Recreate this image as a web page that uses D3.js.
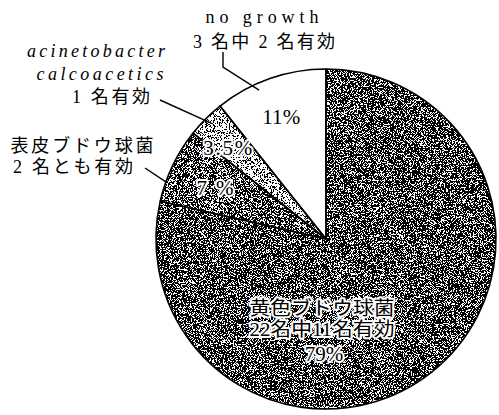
<!DOCTYPE html>
<html lang="ja">
<head>
<meta charset="UTF-8">
<title>菌種別 有効率</title>
<script src="https://d3js.org/d3.v7.min.js"></script>
<style>
  html, body { margin: 0; padding: 0; background: #fff; }
  svg { display: block; }
  .lbl { font-family: "Liberation Serif", "Noto Sans CJK JP", serif; fill: #000; }
  .halo { paint-order: stroke; stroke: #fff; stroke-width: 4px; stroke-linejoin: round; }
</style>
</head>
<body>
<div id="chart"></div>
<script>
// data
const categories = ["黄色ブドウ球菌", "表皮ブドウ球菌", "acinetobacter calcoacetics", "no growth"];
const counts = [22, 2, 1, 3];
const pctLabels = ["79%", "7 %", "3.5%", "11%"];
const noteLines = [
  ["黄色ブドウ球菌", "22名中11名有効"],
  ["表皮ブドウ球菌", "2 名とも有効"],
  ["acinetobacter", "calcoacetics", "1 名有効"],
  ["no growth", "3 名中 2 名有効"]
];

const width = 499, height = 415;
const cx = 326, cy = 239, R = 170;

// look of each slice: noise cut-off (share of black grain), null = plain white
const fills = [0.535, 0.522, 0.465, null];

// where the percentage sits: [angle in degrees, fraction of radius, text width]
const pctPos = [null, [295, 0.72, 37], [313, 0.79, 49], [340, 0.77, 38]];

// outside notes: lines [x, baseline, width, italic], leader start points, leader end [deg, frac]
const notes = {
  1: { lines: [[82, 152, 143], [73, 173, 120]], lead: [[145, 168]], end: [289.5, 0.99], size: 18 },
  2: { lines: [[96, 57, 138, true], [100, 80, 127, true], [111, 103, 78]], lead: [[160, 100]], end: [315.5, 0.95], size: 18 },
  3: { lines: [[262, 23, 113], [264, 48, 142]], lead: [[223, 52], [223, 67]], end: [335.8, 0.96], size: 18 }
};

const svg = d3.select("#chart").append("svg")
  .attr("width", width).attr("height", height)
  .attr("viewBox", [0, 0, width, height]);

const defs = svg.append("defs");
fills.forEach((f, i) => {
  if (f == null) return;
  const table = d3.range(200).map(k => k / 200 < f ? 0 : 1).join(" ");
  const flt = defs.append("filter").attr("id", "grain" + i)
    .attr("x", 0).attr("y", 0).attr("width", "100%").attr("height", "100%");
  flt.append("feTurbulence").attr("type", "fractalNoise")
    .attr("baseFrequency", 1.3).attr("numOctaves", 1).attr("seed", 4 + i).attr("result", "n");
  flt.append("feColorMatrix").attr("in", "n").attr("type", "saturate").attr("values", 0).attr("result", "g");
  const ct = flt.append("feComponentTransfer").attr("in", "g").attr("result", "t");
  ["R", "G", "B"].forEach(c => ct.append("feFunc" + c).attr("type", "discrete").attr("tableValues", table));
  ct.append("feFuncA").attr("type", "discrete").attr("tableValues", "1 1");
  flt.append("feComposite").attr("in", "t").attr("in2", "SourceGraphic").attr("operator", "in");
});

const pie = d3.pie().sort(null).value(d => d)(counts);
const arc = d3.arc().innerRadius(0).outerRadius(R);

const g = svg.append("g").attr("transform", `translate(${cx},${cy})`);

g.selectAll("path.fill").data(pie).join("path")
  .attr("class", "fill")
  .attr("d", arc)
  .attr("fill", (d, i) => fills[i] == null ? "#fff" : "#000")
  .attr("filter", (d, i) => fills[i] == null ? null : `url(#grain${i})`);

g.selectAll("path.edge").data(pie).join("path")
  .attr("class", "edge")
  .attr("d", arc)
  .attr("fill", "none")
  .attr("stroke", "#000")
  .attr("stroke-width", 1.6)
  .attr("stroke-linejoin", "round");

const polar = (deg, frac) => {
  const a = deg * Math.PI / 180;
  return [cx + R * frac * Math.sin(a), cy - R * frac * Math.cos(a)];
};

// percentages
pie.forEach((d, i) => {
  if (!pctPos[i]) return;
  const [x, y] = polar(pctPos[i][0], pctPos[i][1]);
  svg.append("text")
    .attr("class", "lbl" + (fills[i] == null ? "" : " halo"))
    .attr("x", x).attr("y", y).attr("dy", "0.36em")
    .attr("text-anchor", "middle")
    .attr("textLength", pctPos[i][2]).attr("lengthAdjust", "spacing")
    .style("font-size", "21px")
    .text(pctLabels[i]);
});

// main slice label inside
const main = svg.append("text").attr("class", "lbl halo")
  .attr("text-anchor", "middle").style("font-size", "19px");
[[noteLines[0][0], 315, 145], [noteLines[0][1], 336, 145]].forEach(([t, y, w]) => {
  main.append("tspan").attr("x", 322).attr("y", y)
    .attr("textLength", w).attr("lengthAdjust", "spacingAndGlyphs").text(t);
});
main.append("tspan").attr("x", 324).attr("y", 361).style("font-size", "21px").text(pctLabels[0]);

// outside notes with leaders
Object.keys(notes).forEach(k => {
  const n = notes[k];
  const t = svg.append("text").attr("class", "lbl").attr("text-anchor", "middle")
    .style("font-size", n.size + "px");
  n.lines.forEach((ln, j) => {
    t.append("tspan").attr("x", ln[0]).attr("y", ln[1])
      .attr("textLength", ln[2]).attr("lengthAdjust", "spacing")
      .style("font-style", ln[3] ? "italic" : null)
      .text(noteLines[k][j]);
  });
  const pts = n.lead.concat([polar(n.end[0], n.end[1])]);
  svg.append("path")
    .attr("d", d3.line()(pts))
    .attr("fill", "none").attr("stroke", "#000").attr("stroke-width", 1.4);
});
</script>
</body>
</html>
